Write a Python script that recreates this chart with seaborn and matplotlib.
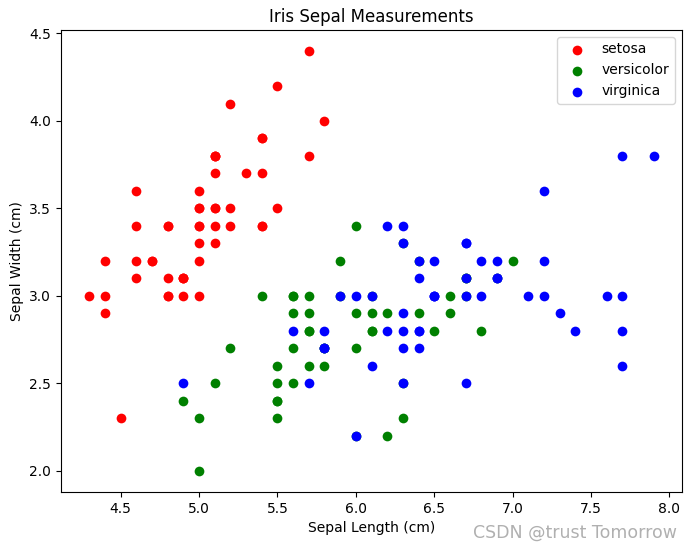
import pandas as pd
import matplotlib
matplotlib.use('Agg')
import matplotlib.pyplot as plt
import seaborn as sns

# iris sepal measurements
setosa_len = [5.1,4.9,4.7,4.6,5.0,5.4,4.6,5.0,4.4,4.9,5.4,4.8,4.8,4.3,5.8,5.7,5.4,5.1,5.7,5.1,
              5.4,5.1,4.6,5.1,4.8,5.0,5.0,5.2,5.2,4.7,4.8,5.4,5.2,5.5,4.9,5.0,5.5,4.9,4.4,5.1,
              5.0,4.5,4.4,5.0,5.1,4.8,5.1,4.6,5.3,5.0]
setosa_wid = [3.5,3.0,3.2,3.1,3.6,3.9,3.4,3.4,2.9,3.1,3.7,3.4,3.0,3.0,4.0,4.4,3.9,3.5,3.8,3.8,
              3.4,3.7,3.6,3.3,3.4,3.0,3.4,3.5,3.4,3.2,3.1,3.4,4.1,4.2,3.1,3.2,3.5,3.1,3.0,3.4,
              3.5,2.3,3.2,3.5,3.8,3.0,3.8,3.2,3.7,3.3]
versi_len = [7.0,6.4,6.9,5.5,6.5,5.7,6.3,4.9,6.6,5.2,5.0,5.9,6.0,6.1,5.6,6.7,5.6,5.8,6.2,5.6,
             5.9,6.1,6.3,6.1,6.4,6.6,6.8,6.7,6.0,5.7,5.5,5.5,5.8,6.0,5.4,6.0,6.7,6.3,5.6,5.5,
             5.5,6.1,5.8,5.0,5.6,5.7,5.7,6.2,5.1,5.7]
versi_wid = [3.2,3.2,3.1,2.3,2.8,2.8,3.3,2.4,2.9,2.7,2.0,3.0,2.2,2.9,2.9,3.1,3.0,2.7,2.2,2.5,
             3.2,2.8,2.5,2.8,2.9,3.0,2.8,3.0,2.9,2.6,2.4,2.4,2.7,2.7,3.0,3.4,3.1,2.3,3.0,2.5,
             2.6,3.0,2.6,2.3,2.7,3.0,2.9,2.9,2.5,2.8]
virg_len = [6.3,5.8,7.1,6.3,6.5,7.6,4.9,7.3,6.7,7.2,6.5,6.4,6.8,5.7,5.8,6.4,6.5,7.7,7.7,6.0,
            6.9,5.6,7.7,6.3,6.7,7.2,6.2,6.1,6.4,7.2,7.4,7.9,6.4,6.3,6.1,7.7,6.3,6.4,6.0,6.9,
            6.7,6.9,5.8,6.8,6.7,6.7,6.3,6.5,6.2,5.9]
virg_wid = [3.3,2.7,3.0,2.9,3.0,3.0,2.5,2.9,2.5,3.6,3.2,2.7,3.0,2.5,2.8,3.2,3.0,3.8,2.6,2.2,
            3.2,2.8,2.8,2.7,3.3,3.2,2.8,3.0,2.8,3.0,2.8,3.8,2.8,2.8,2.6,3.0,3.4,3.1,3.0,3.1,
            3.1,3.1,2.7,3.2,3.3,3.0,2.5,3.0,3.4,3.0]

species = ['setosa', 'versicolor', 'virginica']
colors = ['red', 'green', 'blue']

df = pd.DataFrame({
    'sepal_length': setosa_len + versi_len + virg_len,
    'sepal_width': setosa_wid + versi_wid + virg_wid,
    'species': ['setosa'] * 50 + ['versicolor'] * 50 + ['virginica'] * 50,
})

fig = plt.figure(figsize=(6.91, 5.45), dpi=100)
ax = fig.add_axes([61/691, 53/545, 621/691, 462/545])

for sp, c in zip(species, colors):
    sub = df[df['species'] == sp]
    sns.scatterplot(x=sub['sepal_length'], y=sub['sepal_width'], color=c,
                    s=49, linewidth=0, label=sp, legend=False, ax=ax)

ax.legend(loc='upper right')
ax.set_title('Iris Sepal Measurements')
ax.set_xlabel('Sepal Length (cm)')
ax.set_ylabel('Sepal Width (cm)')

fig.text(677/691, 3/545, 'CSDN @trust Tomorrow', ha='right', va='bottom',
         fontsize=12.5, color='#b0b0b0')

fig.savefig('out.png', dpi=100)
